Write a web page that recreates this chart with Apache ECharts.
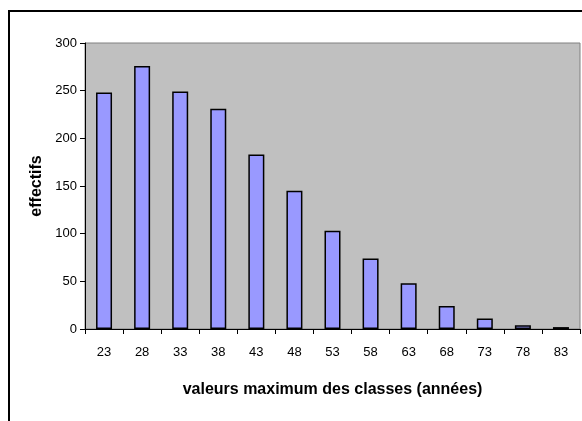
<!DOCTYPE html>
<html>
<head>
<meta charset="utf-8">
<script src="https://cdn.jsdelivr.net/npm/echarts@6/dist/echarts.min.js"></script>
<style>
  html, body { margin: 0; padding: 0; background: #fff; }
  #chart { width: 582px; height: 421px; }
</style>
</head>
<body>
<div id="chart"></div>
<script>
// Class upper bounds (years) and counts per class
const categories = ['23', '28', '33', '38', '43', '48', '53', '58', '63', '68', '73', '78', '83'];
const effectifs = [248, 276, 249, 231, 183, 145, 103, 74, 48, 24, 11, 4, 2];
const yTicks = { min: 0, max: 300, interval: 50 };
const xTitle = 'valeurs maximum des classes (années)';
const yTitle = 'effectifs';

const FONT = "'Liberation Sans', Arial, sans-serif";

const chart = echarts.init(document.getElementById('chart'), null, { renderer: 'canvas' });
chart.setOption({
  backgroundColor: '#ffffff',
  animation: false,
  graphic: [
    {
      type: 'rect',
      shape: { x: 9, y: 11, width: 640, height: 480 },
      style: { fill: 'none', stroke: '#000', lineWidth: 2 },
      silent: true,
      z: 100
    }
  ],
  grid: {
    left: 85, top: 43, right: 2, bottom: 92,
    show: true,
    backgroundColor: '#C0C0C0',
    borderColor: '#808080',
    borderWidth: 1
  },
  xAxis: {
    type: 'category',
    data: categories,
    name: xTitle,
    nameLocation: 'middle',
    nameGap: 53,
    nameTextStyle: { fontFamily: FONT, fontSize: 16, fontWeight: 'bold', color: '#000' },
    axisLine: { lineStyle: { color: '#000', width: 1 } },
    axisTick: { show: true, length: 5, alignWithLabel: false, lineStyle: { color: '#000' } },
    axisLabel: { fontFamily: FONT, fontSize: 13, color: '#000', margin: 17 },
    splitLine: { show: false }
  },
  yAxis: {
    type: 'value',
    min: yTicks.min,
    max: yTicks.max,
    interval: yTicks.interval,
    name: yTitle,
    nameLocation: 'middle',
    nameGap: 33,
    nameRotate: 90,
    nameTextStyle: { fontFamily: FONT, fontSize: 16, fontWeight: 'bold', color: '#000' },
    axisLine: { show: true, lineStyle: { color: '#000', width: 1 } },
    axisTick: { show: true, length: 5, lineStyle: { color: '#000' } },
    axisLabel: { fontFamily: FONT, fontSize: 13, color: '#000', margin: 8 },
    splitLine: { show: false }
  },
  series: [
    {
      type: 'bar',
      data: effectifs,
      barWidth: 16,
      itemStyle: { color: '#9999FF', borderColor: '#000', borderWidth: 1.5 }
    }
  ]
});
</script>
</body>
</html>
